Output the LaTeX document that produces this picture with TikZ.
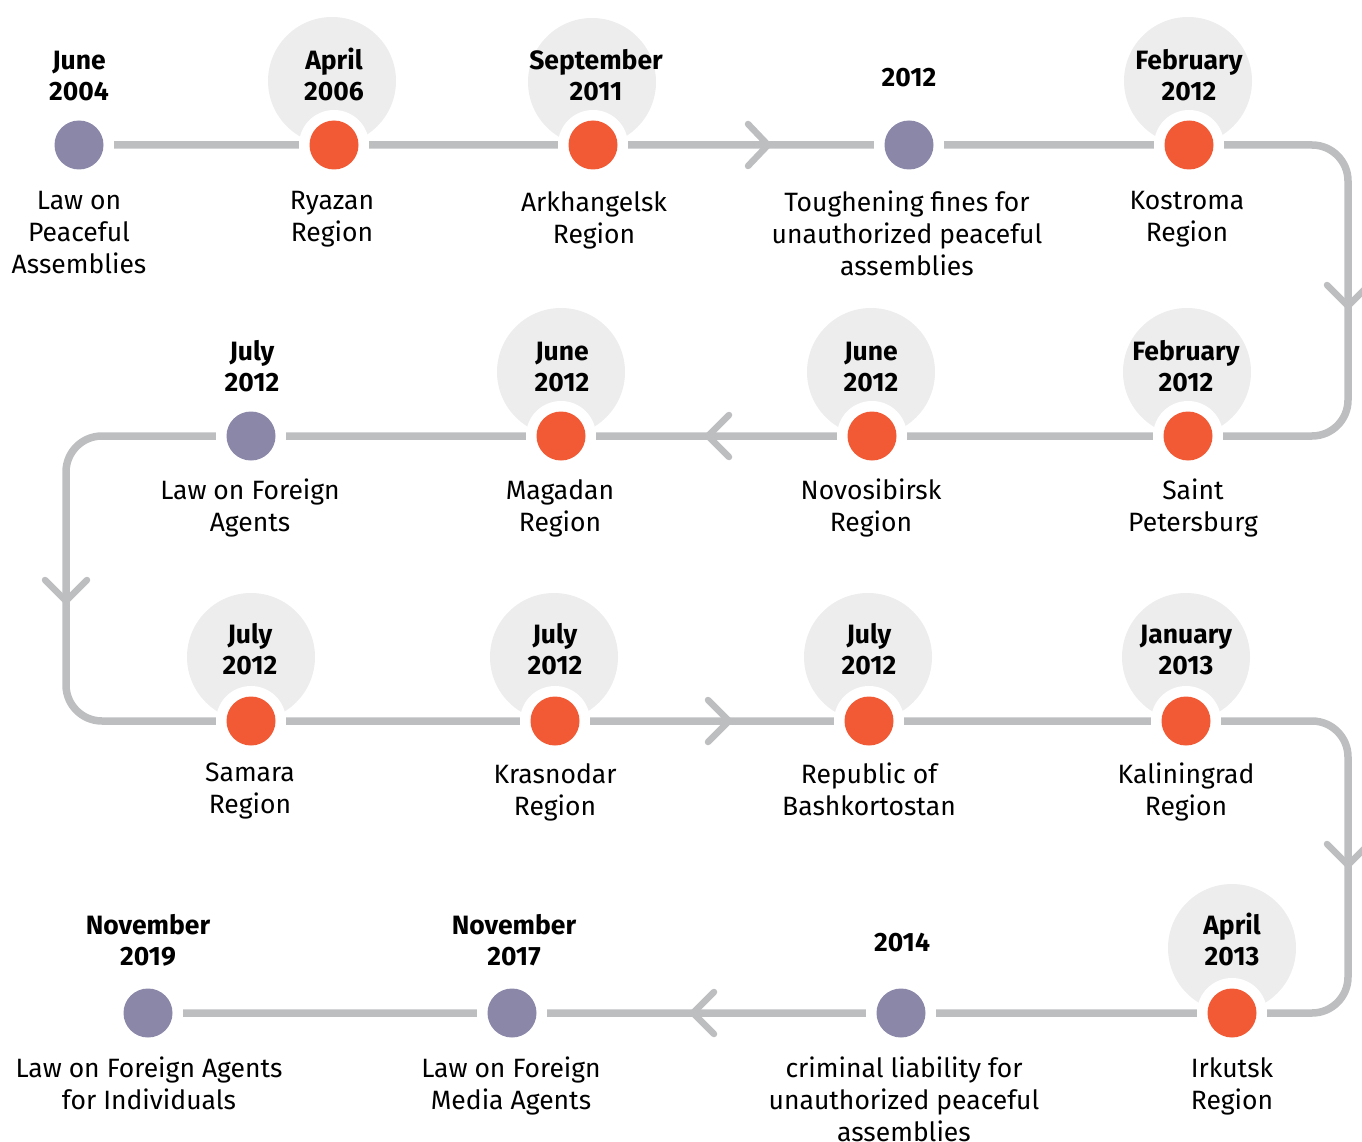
\documentclass[tikz,border=0pt]{standalone}
\usepackage{fontspec}
\setmainfont{Fira Sans}
\definecolor{tlgrey}{HTML}{BDBEC0}
\definecolor{tlhalo}{HTML}{EDEDED}
\definecolor{tlpurple}{HTML}{8A87A8}
\definecolor{tlorange}{HTML}{F15A35}
\begin{document}
\begin{tikzpicture}[x=1pt,y=-1pt,
    halo/.style={circle,fill=tlhalo,minimum size=128pt,inner sep=0pt},
    ring/.style={circle,fill=white,minimum size=70pt,inner sep=0pt},
    pdot/.style={circle,fill=tlpurple,minimum size=49pt,inner sep=0pt},
    odot/.style={circle,fill=tlorange,minimum size=49pt,inner sep=0pt},
    datelab/.style={font=\fontsize{26.5}{31}\selectfont\bfseries,align=center,inner sep=0pt,
      anchor=south,execute at end node=\strut},
    txtlab/.style={font=\fontsize{26.5}{32}\selectfont,align=center,inner sep=0pt,
      anchor=north,execute at begin node=\strut},
    tline/.style={draw=tlgrey,line width=7.5pt,rounded corners=36pt},
    chev/.style={draw=tlgrey,line width=6.5pt,line cap=round,line join=round}]
    \clip (0,0) rectangle (1362,1142);

    % dot positions
    \coordinate (p1) at (79,145);
    \coordinate (p2) at (334,145);
    \coordinate (p3) at (593,145);
    \coordinate (p4) at (909,145);
    \coordinate (p5) at (1189,145);
    \coordinate (p6) at (1188,436);
    \coordinate (p7) at (872,436);
    \coordinate (p8) at (561,436);
    \coordinate (p9) at (251,436);
    \coordinate (p10) at (251,721);
    \coordinate (p11) at (555,721);
    \coordinate (p12) at (869,721);
    \coordinate (p13) at (1186,721);
    \coordinate (p14) at (1232,1013);
    \coordinate (p15) at (901,1013);
    \coordinate (p16) at (512,1013);
    \coordinate (p17) at (148,1013);
    % turns
    \coordinate (c1) at (1348,145);
    \coordinate (c2) at (1348,436);
    \coordinate (c3) at (66,436);
    \coordinate (c4) at (66,721);
    \coordinate (c5) at (1348,721);
    \coordinate (c6) at (1348,1013);

    % grey discs behind the dates
    \node[halo] (h2) at (332,81) {};
    \node[halo] (h3) at (592,82) {};
    \node[halo] (h5) at (1188,81) {};
    \node[halo] (h6) at (1187,372) {};
    \node[halo] (h7) at (871,372) {};
    \node[halo] (h8) at (561,372) {};
    \node[halo] (h10) at (251,657) {};
    \node[halo] (h11) at (554,657) {};
    \node[halo] (h12) at (868,657) {};
    \node[halo] (h13) at (1186,657) {};
    \node[halo] (h14) at (1232,948) {};

    % the time line
    \draw[tline] (p1) -- (p2) -- (p3) -- (p4) -- (p5) -- (c1) -- (c2) -- (p6) -- (p7) -- (p8) -- (p9) -- (c3) -- (c4)
      -- (p10) -- (p11) -- (p12) -- (p13) -- (c5) -- (c6) -- (p14) -- (p15) -- (p16) -- (p17);
    \draw[chev] (748,124) -- (768,145) -- (748,166);
    \draw[chev] (1327,285) -- (1348,306) -- (1369,285);
    \draw[chev] (729,415) -- (708,436) -- (729,457);
    \draw[chev] (45,580) -- (66,601) -- (87,580);
    \draw[chev] (708,700) -- (729,721) -- (708,742);
    \draw[chev] (1327,844) -- (1348,865) -- (1369,844);
    \draw[chev] (714,992) -- (693,1013) -- (714,1034);

    % dots
    \node[ring] (r1) at (p1) {};   \node[pdot] (n1) at (p1) {};
    \node[ring] (r2) at (p2) {};   \node[odot] (n2) at (p2) {};
    \node[ring] (r3) at (p3) {};   \node[odot] (n3) at (p3) {};
    \node[ring] (r4) at (p4) {};   \node[pdot] (n4) at (p4) {};
    \node[ring] (r5) at (p5) {};   \node[odot] (n5) at (p5) {};
    \node[ring] (r6) at (p6) {};   \node[odot] (n6) at (p6) {};
    \node[ring] (r7) at (p7) {};   \node[odot] (n7) at (p7) {};
    \node[ring] (r8) at (p8) {};   \node[odot] (n8) at (p8) {};
    \node[ring] (r9) at (p9) {};   \node[pdot] (n9) at (p9) {};
    \node[ring] (r10) at (p10) {}; \node[odot] (n10) at (p10) {};
    \node[ring] (r11) at (p11) {}; \node[odot] (n11) at (p11) {};
    \node[ring] (r12) at (p12) {}; \node[odot] (n12) at (p12) {};
    \node[ring] (r13) at (p13) {}; \node[odot] (n13) at (p13) {};
    \node[ring] (r14) at (p14) {}; \node[odot] (n14) at (p14) {};
    \node[ring] (r15) at (p15) {}; \node[pdot] (n15) at (p15) {};
    \node[ring] (r16) at (p16) {}; \node[pdot] (n16) at (p16) {};
    \node[ring] (r17) at (p17) {}; \node[pdot] (n17) at (p17) {};

    % dates
    \node[datelab] (d1) at (79,110) {June\\2004};
    \node[datelab] (d2) at (334,110) {April\\2006};
    \node[datelab] (d3) at (596,110) {September\\2011};
    \node[datelab] (d4) at (909,96) {2012};
    \node[datelab] (d5) at (1189,110) {February\\2012};
    \node[datelab] (d6) at (1186,401) {February\\2012};
    \node[datelab] (d7) at (871,401) {June\\2012};
    \node[datelab] (d8) at (562,401) {June\\2012};
    \node[datelab] (d9) at (252,401) {July\\2012};
    \node[datelab] (d10) at (250,684) {July\\2012};
    \node[datelab] (d11) at (555,684) {July\\2012};
    \node[datelab] (d12) at (869,684) {July\\2012};
    \node[datelab] (d13) at (1186,684) {January\\2013};
    \node[datelab] (d14) at (1232,975) {April\\2013};
    \node[datelab] (d15) at (902,961) {2014};
    \node[datelab] (d16) at (514,975) {November\\2017};
    \node[datelab] (d17) at (148,975) {November\\2019};

    % what happened
    \node[txtlab] (t1) at (79,191) {Law on\\Peaceful\\Assemblies};
    \node[txtlab] (t2) at (332,191) {Ryazan\\Region};
    \node[txtlab] (t3) at (594,191) {Arkhangelsk\\Region};
    \node[txtlab] (t4) at (907,191) {Toughening fines for\\unauthorized peaceful\\assemblies};
    \node[txtlab] (t5) at (1187,191) {Kostroma\\Region};
    \node[txtlab] (t6) at (1193,479) {Saint\\Petersburg};
    \node[txtlab] (t7) at (871,479) {Novosibirsk\\Region};
    \node[txtlab] (t8) at (560,479) {Magadan\\Region};
    \node[txtlab] (t9) at (250,479) {Law on Foreign\\Agents};
    \node[txtlab] (t10) at (250,763) {Samara\\Region};
    \node[txtlab] (t11) at (555,763) {Krasnodar\\Region};
    \node[txtlab] (t12) at (869,763) {Republic of\\Bashkortostan};
    \node[txtlab] (t13) at (1186,763) {Kaliningrad\\Region};
    \node[txtlab] (t14) at (1232,1057) {Irkutsk\\Region};
    \node[txtlab] (t15) at (904,1057) {criminal liability for\\unauthorized peaceful\\assemblies};
    \node[txtlab] (t16) at (511,1057) {Law on Foreign\\Media Agents};
    \node[txtlab] (t17) at (149,1057) {Law on Foreign Agents\\for Individuals};
\end{tikzpicture}
\end{document}
